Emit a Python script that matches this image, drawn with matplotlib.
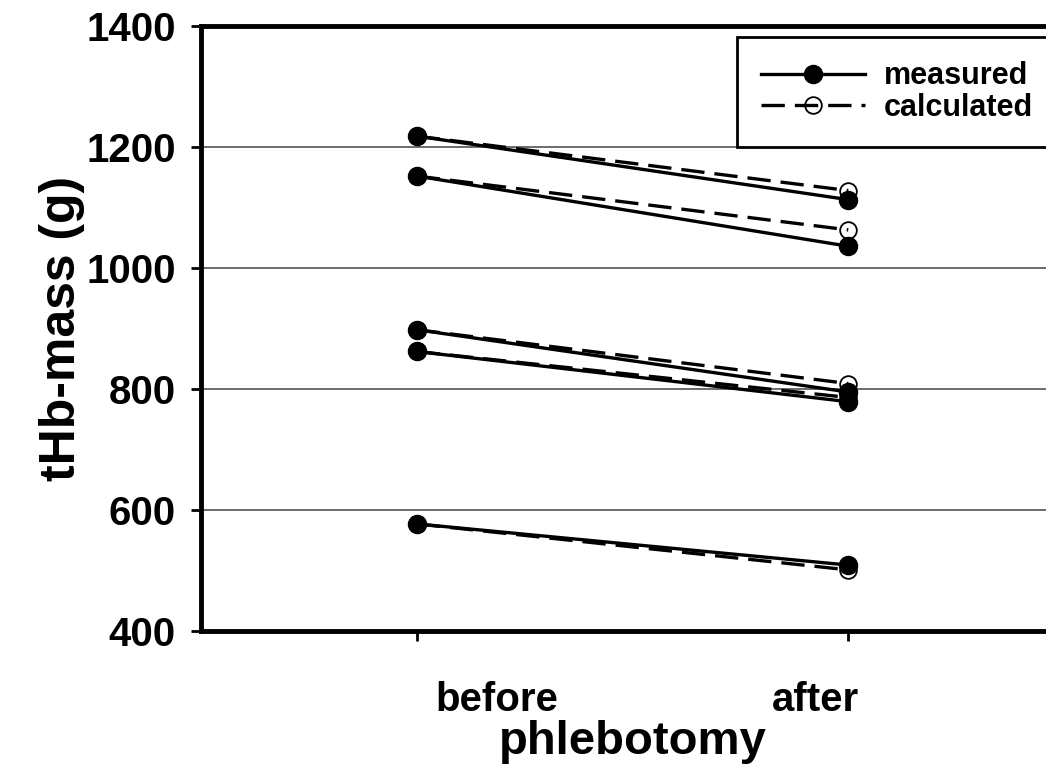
import matplotlib.pyplot as plt
from matplotlib.transforms import ScaledTranslation

plt.rcParams['font.family'] = ['Liberation Sans', 'DejaVu Sans']
plt.rcParams['font.weight'] = 'bold'

# tHb-mass (g) before / after phlebotomy, one pair per subject
stages = ["before", "after"]
measured = [
    [1218, 1113],
    [1152, 1036],
    [898, 795],
    [862, 779],
    [577, 509],
]
calculated = [
    [1218, 1128],
    [1152, 1063],
    [898, 809],
    [862, 786],
    [577, 501],
]
xpos = [0.5, 1.5]

fig = plt.figure(figsize=(10.46, 7.68), dpi=100)
ax = fig.add_axes([201/1046, 137/768, 863/1046, 605/768])

for i, (m, c) in enumerate(zip(measured, calculated)):
    ax.plot(xpos, c, color='black', lw=2.4, dashes=(7, 3), marker='o',
            ms=12, mfc='none', mec='black', mew=1.3,
            label='calculated' if i == 0 else None, zorder=3)
    ax.plot(xpos, m, color='black', lw=2.4, marker='o', ms=13,
            mfc='black', mec='black',
            label='measured' if i == 0 else None, zorder=4)

ax.set_xlim(0, 2)
ax.set_ylim(400, 1400)
ax.set_yticks([400, 600, 800, 1000, 1200, 1400])
ax.set_xticks(xpos)
ax.set_xticklabels(stages)
ax.grid(axis='y', color='#606060', lw=1.3)
ax.set_axisbelow(True)

for s in ax.spines.values():
    s.set_linewidth(3.5)
ax.tick_params(axis='both', direction='out', length=7, width=2,
               labelsize=29, pad=11)
ax.tick_params(axis='x', pad=29)

# shift the x labels off the ticks like the original
offsets = [0.8, -0.33]
for lab, dx in zip(ax.get_xticklabels(), offsets):
    lab.set_transform(lab.get_transform() + ScaledTranslation(dx, 0, fig.dpi_scale_trans))

ax.set_xlabel("phlebotomy", fontsize=34, fontweight='bold', labelpad=1)
ax.set_ylabel("tHb-mass (g)", fontsize=36, fontweight='bold', labelpad=1)

h, l = ax.get_legend_handles_labels()
leg = ax.legend(h[::-1], l[::-1], loc='upper left',
                bbox_to_anchor=(737/1046, 1 - 37/768), bbox_transform=fig.transFigure,
                borderaxespad=0, fancybox=False, framealpha=1, edgecolor='black',
                fontsize=22, handlelength=3.4, labelspacing=0.05, borderpad=0.8,
                handletextpad=0.6)
leg.get_frame().set_linewidth(2)
for t in leg.get_texts():
    t.set_fontweight('bold')

fig.savefig("out.png", dpi=100)
